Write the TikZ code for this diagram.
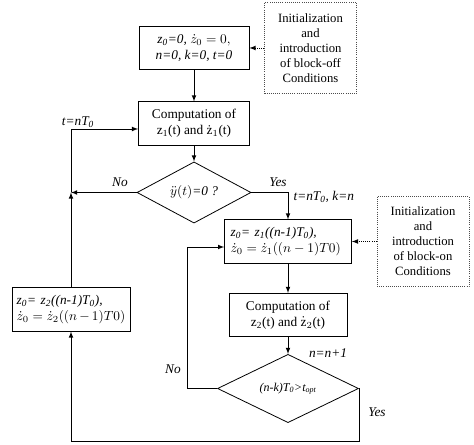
\documentclass[tikz,border=0pt]{standalone}
\usepackage{amsmath}
\usepackage{fontspec}
\setmainfont{Liberation Serif}
\usepackage{tikz}
\usetikzlibrary{arrows,shapes}

\tikzset{
	block/.style = {draw, rectangle, line width = 0.6pt, minimum height = 32.5pt, inner sep = 2pt, align = center, font = \fontsize{10}{12}\selectfont},
	leftblock/.style = {block, align = left, inner xsep = 3.5pt, text width = #1},
	note/.style = {draw = black!70, densely dotted, line width = 0.6pt, rectangle, minimum width = 69pt, minimum height = 68pt, align = center, font = \fontsize{9.5}{11.3}\selectfont},
	test/.style = {draw, diamond, line width = 0.6pt, inner sep = 0pt},
	tag/.style = {font = \fontsize{10}{12}\selectfont\itshape, inner sep = 1pt},
	link/.style = {-latex, line width = 0.6pt},
	hint/.style = {-latex, densely dotted, line width = 0.6pt}
}

\begin{document}
\begin{tikzpicture}[x = 0.75pt, y = 0.75pt]
\useasboundingbox (0,0) rectangle (474,445);

\node[block, minimum width = 82.5pt] (init) at (194,397) {\textit{z\textsubscript{0}=0, }$\dot{z}_0 = 0,$\\ \textit{n=0, k=0, t=0}};
	\node[note] (offnote) at (310.5,397) {Initialization\\and\\introduction\\of block-off\\Conditions};

\node[block, minimum width = 83.25pt] (comp1) at (194,321.5) {Computation of\\z\textsubscript{1}(t) and $\dot{\mathrm{z}}_{1}$(t)};
\node[test, minimum width = 85.5pt, minimum height = 33.75pt, font = \fontsize{10}{12}\selectfont] (acc) at (194,252.5) {$\ddot{y}(t)$\textit{=0 ?}};

\node[leftblock = 86pt, inner xsep = 4.6pt] (on) at (288,203.5) {\textit{z\textsubscript{0}= z\textsubscript{1}((n-1)T\textsubscript{0}),}\\ $\dot{z}_0 = \dot{z}_1((n-1)T0)$};
	\node[note] (onnote) at (423,203.5) {Initialization\\and\\introduction\\of block-on\\Conditions};
\node[block, minimum width = 88.5pt] (comp2) at (288,130) {Computation of\\z\textsubscript{2}(t) and $\dot{\mathrm{z}}_{2}$(t)};
\node[test, minimum width = 105.75pt, minimum height = 39.75pt, font = \fontsize{9}{11}\selectfont\itshape] (span) at (288,56.5) {(n-k)T\textsubscript{0}>t\textsubscript{opt}};

\node[leftblock = 81.5pt] (off) at (71,135.5) {\textit{z\textsubscript{0}= z\textsubscript{2}((n-1)T\textsubscript{0}),}\\ $\dot{z}_0 = \dot{z}_2((n-1)T0)$};

\coordinate (j1) at (71,252.5);
\coordinate (j2) at (71,316);
\coordinate (j3) at (187,198);
\coordinate (j4) at (71,4);

\node[tag] (no1) at (120,263) {No};
\node[tag] (yes1) at (278,263) {Yes};
\node[tag] (tn) at (78,323) {t=nT\textsubscript{0}};
\node[tag, anchor = west] (tk) at (292,248) {t=nT\textsubscript{0}, k=n};
\node[tag] (inc) at (328,92) {n=n+1};
\node[tag] (no2) at (173,76) {No};
\node[tag] (yes2) at (377,33) {Yes};

\draw[hint] (offnote.west) -- (offnote.west -| init.east);
\draw[link] (init) -- (comp1);
\draw[link] (comp1) -- (acc);
\draw[link] (acc.west) -- (j1);
\draw[link] (off.north) -- (j1);
\draw[link] (j1) -- (j2) -- (j2 -| comp1.west);
\draw[link] (acc.east) -| (on.north);

\draw[hint] (onnote.west) -- (onnote.west -| on.east);
\draw[link] (on) -- (comp2);
\draw[link] (comp2) -- (span);
\draw[link] (span.west) -| (j3) -- (j3 -| on.west);
\draw[link] (span.east) |- (j4) -- (off.south);

\end{tikzpicture}
\end{document}
